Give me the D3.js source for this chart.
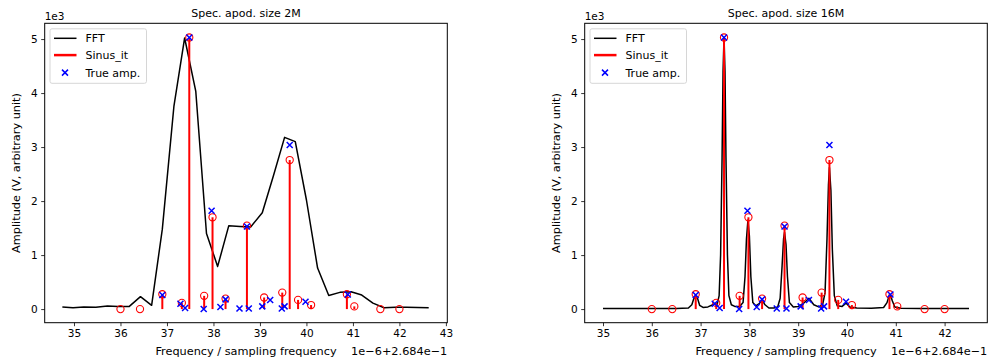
<!DOCTYPE html>
<html><head><meta charset="utf-8">
<script src="https://cdn.jsdelivr.net/npm/d3@7"></script>
<style>
body{margin:0;background:#fff;}
text{font-family:"DejaVu Sans",sans-serif;fill:#000;}
</style></head>
<body>
<svg id="chart" width="989" height="361"></svg>
<script>
// ---- data (amplitudes in units of 1e3) ----
const yTicks = [0, 1, 2, 3, 4, 5];
const xTicks2M = [35, 36, 37, 38, 39, 40, 41, 42, 43];
const xTicks16M = [35, 36, 37, 38, 39, 40, 41, 42];

const sinusFreq = [36.00, 36.42, 36.90, 37.32, 37.48, 37.80, 37.98, 38.26, 38.72, 39.09, 39.48, 39.64, 39.82, 40.10, 40.87, 41.03, 41.59, 42.00];
const sinusAmp  = [0, 0, 0.275, 0.115, 5.03, 0.245, 1.70, 0.195, 1.545, 0.215, 0.305, 2.76, 0.17, 0.075, 0.275, 0.05, 0, 0];

const trueFreq = [36.90, 37.29, 37.39, 37.48, 37.79, 37.96, 38.15, 38.26, 38.56, 38.72, 38.76, 39.05, 39.22, 39.47, 39.53, 39.64, 39.98, 40.89];
const trueAmp  = [0.26, 0.10, 0.02, 5.03, 0.0, 1.82, 0.04, 0.18, 0.01, 1.53, 0.01, 0.05, 0.17, 0.01, 0.05, 3.04, 0.135, 0.27];

const fft2MFreq = [34.75, 34.98, 35.21, 35.47, 35.72, 35.95, 36.19, 36.43, 36.67, 36.90, 37.15, 37.38, 37.62, 37.85, 38.09, 38.33, 38.57, 38.80, 39.05, 39.29, 39.53, 39.76, 40.00, 40.24, 40.48, 40.72, 40.96, 41.19, 41.43, 41.67, 41.91, 42.15, 42.39, 42.63];
const fft2MAmp  = [0.04, 0.025, 0.04, 0.035, 0.055, 0.05, 0.05, 0.23, 0.07, 1.48, 3.76, 5.02, 4.03, 1.40, 0.79, 1.545, 1.53, 1.52, 1.785, 2.47, 3.18, 3.10, 2.02, 0.76, 0.25, 0.31, 0.32, 0.26, 0.11, 0.025, 0.035, 0.035, 0.03, 0.025];

const fft16MFreq = [35.00, 35.50, 36.00, 36.50, 36.75, 36.82, 36.86, 36.90, 36.94, 36.98, 37.05, 37.15, 37.25, 37.30, 37.34, 37.38, 37.41, 37.44, 37.46, 37.48, 37.50, 37.52, 37.55, 37.58, 37.63, 37.70, 37.80, 37.87, 37.91, 37.94, 37.97, 38.00, 38.03, 38.07, 38.13, 38.20, 38.26, 38.32, 38.40, 38.50, 38.58, 38.63, 38.67, 38.70, 38.72, 38.75, 38.78, 38.82, 38.90, 39.00, 39.10, 39.22, 39.32, 39.42, 39.50, 39.55, 39.59, 39.62, 39.64, 39.67, 39.70, 39.74, 39.80, 39.90, 39.98, 40.06, 40.20, 40.50, 40.75, 40.82, 40.86, 40.89, 40.93, 40.98, 41.10, 41.50, 42.00, 42.50];
const fft16MAmp  = [0.01, 0.01, 0.01, 0.012, 0.02, 0.08, 0.19, 0.26, 0.19, 0.07, 0.03, 0.04, 0.08, 0.11, 0.09, 0.25, 1.0, 2.8, 4.4, 5.03, 4.4, 2.8, 1.0, 0.25, 0.08, 0.05, 0.05, 0.12, 0.6, 1.3, 1.65, 1.35, 0.6, 0.12, 0.06, 0.10, 0.17, 0.08, 0.02, 0.02, 0.04, 0.2, 0.8, 1.3, 1.42, 1.2, 0.6, 0.12, 0.04, 0.05, 0.10, 0.20, 0.08, 0.04, 0.08, 0.3, 1.3, 2.3, 2.62, 2.2, 1.1, 0.25, 0.06, 0.05, 0.11, 0.04, 0.02, 0.015, 0.03, 0.12, 0.24, 0.26, 0.15, 0.04, 0.015, 0.01, 0.01, 0.01];

const legendLabels = ["FFT", "Sinus_it", "True amp."];
const titles = ["Spec. apod. size 2M", "Spec. apod. size 16M"];

// ---- drawing ----
const svg = d3.select("#chart");
const plotTop = 23.3, plotBottom = 322.7;

function panel(cfg) {
  const g = svg.append("g");
  const x = d3.scaleLinear().domain(cfg.xDomain).range([cfg.left, cfg.right]);
  const y = d3.scaleLinear().domain([-0.252, 5.292]).range([plotBottom, plotTop]);

  // FFT line
  const fft = d3.zip(cfg.fftF, cfg.fftA);
  g.append("path").datum(fft)
    .attr("d", d3.line().x(d => x(d[0])).y(d => y(d[1])))
    .attr("fill", "none").attr("stroke", "#000").attr("stroke-width", 1.5)
    .attr("stroke-linejoin", "round");

  // stems
  const sin = d3.zip(sinusFreq, sinusAmp);
  g.selectAll(".stem").data(sin).enter().append("line")
    .attr("x1", d => x(d[0])).attr("x2", d => x(d[0]))
    .attr("y1", y(0)).attr("y2", d => y(d[1]))
    .attr("stroke", "#ff0000").attr("stroke-width", 2);
  g.selectAll(".circ").data(sin).enter().append("circle")
    .attr("cx", d => x(d[0])).attr("cy", d => y(d[1])).attr("r", 3.6)
    .attr("fill", "none").attr("stroke", "#ff0000").attr("stroke-width", 1.1);

  // true amp crosses
  const tr = d3.zip(trueFreq, trueAmp);
  const s = 3;
  g.selectAll(".cross").data(tr).enter().append("path")
    .attr("d", d => { const cx = x(d[0]), cy = y(d[1]);
      return `M${cx-s},${cy-s}L${cx+s},${cy+s}M${cx-s},${cy+s}L${cx+s},${cy-s}`; })
    .attr("stroke", "#0000ff").attr("stroke-width", 1.5).attr("fill", "none");

  // axes
  const xa = g.append("g").attr("transform", `translate(0,${plotBottom})`)
    .call(d3.axisBottom(x).tickValues(cfg.xTicks).tickFormat(d3.format("d")).tickSize(3.5).tickPadding(3.5));
  const ya = g.append("g").attr("transform", `translate(${cfg.left},0)`)
    .call(d3.axisLeft(y).tickValues(yTicks).tickFormat(d3.format("d")).tickSize(3.5).tickPadding(3.5));
  [xa, ya].forEach(a => {
    a.select(".domain").remove();
    a.selectAll("text").attr("font-size", 10.5).attr("font-family", "DejaVu Sans");
    a.selectAll("line").attr("stroke", "#000").attr("stroke-width", 0.8);
  });

  // frame
  g.append("rect").attr("x", cfg.left).attr("y", plotTop)
    .attr("width", cfg.right - cfg.left).attr("height", plotBottom - plotTop)
    .attr("fill", "none").attr("stroke", "#000").attr("stroke-width", 1);

  const cx = (cfg.left + cfg.right) / 2;
  g.append("text").attr("x", cx).attr("y", 16.5).attr("text-anchor", "middle")
    .attr("font-size", 11).text(cfg.title);
  g.append("text").attr("x", cfg.left).attr("y", 19.5).attr("font-size", 10.5).text("1e3");
  g.append("text").attr("x", cx).attr("y", 355).attr("text-anchor", "middle")
    .attr("font-size", 11.3).text("Frequency / sampling frequency");
  g.append("text").attr("x", cfg.right).attr("y", 355).attr("text-anchor", "end")
    .attr("font-size", 11.3).text("1e\u22126+2.684e\u22121");
  g.append("text").attr("transform", `translate(${cfg.left - 24.5},${(plotTop + plotBottom) / 2}) rotate(-90)`)
    .attr("text-anchor", "middle").attr("font-size", 11.3).text("Amplitude (V, arbitrary unit)");

  // legend
  const lx = cfg.left + 5.3, ly = plotTop + 5.5;
  const lg = g.append("g");
  lg.append("rect").attr("x", lx).attr("y", ly).attr("width", 96.5).attr("height", 54.5)
    .attr("rx", 2).attr("fill", "#fff").attr("fill-opacity", 0.8)
    .attr("stroke", "#d6d6d6").attr("stroke-width", 1);
  const rows = [ly + 9.5, ly + 26.3, ly + 43.8];
  lg.append("line").attr("x1", lx + 4).attr("x2", lx + 26.5).attr("y1", rows[0]).attr("y2", rows[0])
    .attr("stroke", "#000").attr("stroke-width", 1.5);
  lg.append("line").attr("x1", lx + 4).attr("x2", lx + 26.5).attr("y1", rows[1]).attr("y2", rows[1])
    .attr("stroke", "#ff0000").attr("stroke-width", 2.5);
  const mx = lx + 15, my = rows[2];
  lg.append("path").attr("d", `M${mx-s},${my-s}L${mx+s},${my+s}M${mx-s},${my+s}L${mx+s},${my-s}`)
    .attr("stroke", "#0000ff").attr("stroke-width", 1.5);
  legendLabels.forEach((t, i) => {
    lg.append("text").attr("x", lx + 35.5).attr("y", rows[i] + 4).attr("font-size", 11).text(t);
  });
}

panel({left: 44.7, right: 447.3, xDomain: [34.37, 43.03], xTicks: xTicks2M,
       fftF: fft2MFreq, fftA: fft2MAmp, title: titles[0]});
panel({left: 584.7, right: 987.3, xDomain: [34.625, 42.875], xTicks: xTicks16M,
       fftF: fft16MFreq, fftA: fft16MAmp, title: titles[1]});
</script>
</body></html>
